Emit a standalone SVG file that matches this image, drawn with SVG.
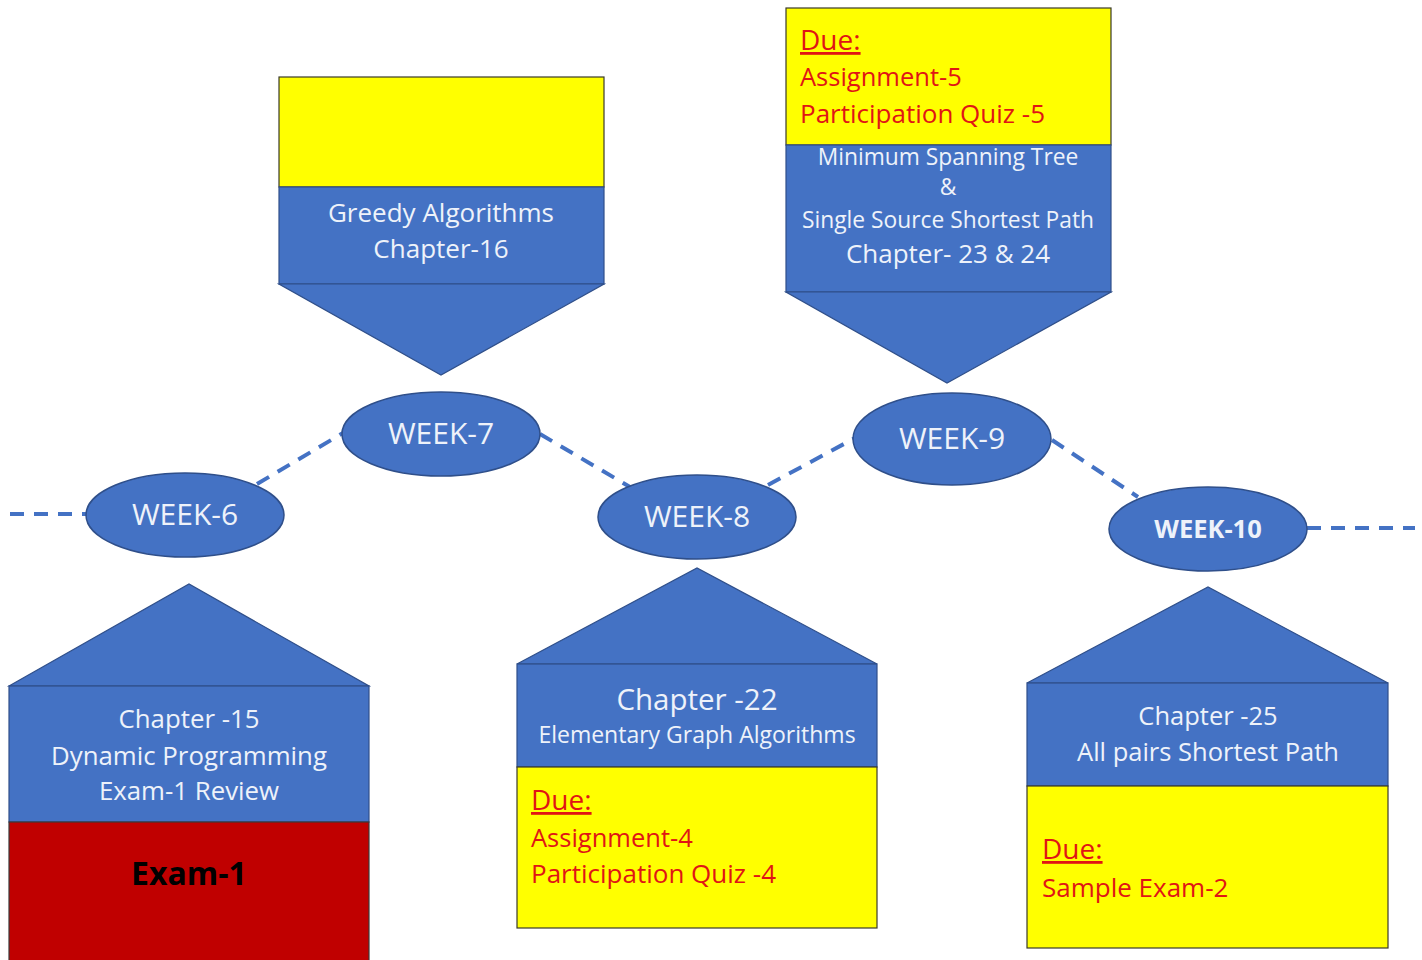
<svg xmlns="http://www.w3.org/2000/svg" width="1422" height="960" viewBox="0 0 1422 960">
<style>
.blue{fill:#4472C4;stroke:#2F4F8A;stroke-width:1.2}
.yel{fill:#FFFF00;stroke:#3A3A2A;stroke-width:1.2}
.red{fill:#C00000;stroke:#3A3A3A;stroke-width:1.2}
.wk{fill:#4472C4;stroke:#2F4F8A;stroke-width:1.5}
.t{font-family:"Open Sans","Noto Sans",sans-serif;fill:#EEF2FA;text-anchor:middle}
.r{font-family:"Open Sans","Noto Sans",sans-serif;fill:#E01515}
.due{text-decoration:underline;font-size:28px}
.dash{stroke:#4472C4;stroke-width:4;stroke-dasharray:14 10;fill:none}
</style>
<rect width="1422" height="960" fill="#FFFFFF"/>
<g id="connectors">
<line class="dash" x1="10" y1="514" x2="87" y2="514"/>
<line class="dash" x1="257" y1="484" x2="343" y2="433"/>
<line class="dash" x1="540" y1="434" x2="630" y2="487"/>
<line class="dash" x1="768" y1="485" x2="855" y2="438"/>
<line class="dash" x1="1052" y1="440" x2="1138" y2="497"/>
<line class="dash" x1="1307" y1="528" x2="1415" y2="528"/>
</g>
<g id="week6">
<ellipse class="wk" cx="185" cy="515" rx="99" ry="42"/>
<text class="t" x="185" y="525" font-size="30">WEEK-6</text>
</g>
<g id="week7">
<ellipse class="wk" cx="441" cy="434" rx="99" ry="42"/>
<text class="t" x="441" y="444" font-size="30">WEEK-7</text>
</g>
<g id="week8">
<ellipse class="wk" cx="697" cy="517" rx="99" ry="42"/>
<text class="t" x="697" y="527" font-size="30">WEEK-8</text>
</g>
<g id="week9">
<ellipse class="wk" cx="952" cy="439" rx="99" ry="46"/>
<text class="t" x="952" y="449" font-size="30">WEEK-9</text>
</g>
<g id="week10">
<ellipse class="wk" cx="1208" cy="529" rx="99" ry="42"/>
<text class="t" x="1208" y="538" font-size="25.5" font-weight="bold">WEEK-10</text>
</g>
<g id="box-week7">
<rect class="yel" x="279" y="77" width="325" height="110"/>
<rect class="blue" x="279" y="187" width="325" height="97"/>
<polygon class="blue" points="279,284 604,284 441,375"/>
<text class="t" x="441" y="222" font-size="26">Greedy Algorithms</text>
<text class="t" x="441" y="258" font-size="26">Chapter-16</text>
</g>
<g id="box-week9">
<rect class="yel" x="786" y="8" width="325" height="137"/>
<rect class="blue" x="786" y="145" width="325" height="147"/>
<polygon class="blue" points="786,292 1111,292 947,383"/>
<text class="r due" x="800" y="50">Due:</text>
<text class="r" x="800" y="86" font-size="25.5">Assignment-5</text>
<text class="r" x="800" y="123" font-size="26">Participation Quiz -5</text>
<text class="t" x="948" y="165" font-size="22.8">Minimum Spanning Tree</text>
<text class="t" x="948" y="195" font-size="22.8">&amp;</text>
<text class="t" x="948" y="228" font-size="22.8">Single Source Shortest Path</text>
<text class="t" x="948" y="263" font-size="26">Chapter- 23 &amp; 24</text>
</g>
<g id="box-week6">
<polygon class="blue" points="9,686 189,584 369,686"/>
<rect class="blue" x="9" y="686" width="360" height="136"/>
<rect class="red" x="9" y="822" width="360" height="140"/>
<text class="t" x="189" y="728" font-size="25.8">Chapter -15</text>
<text class="t" x="189" y="765" font-size="25.8">Dynamic Programming</text>
<text class="t" x="189" y="800" font-size="25.8">Exam-1 Review</text>
<text x="189" y="885" font-size="32" font-weight="bold" text-anchor="middle" font-family="Open Sans, Noto Sans, sans-serif" fill="#000000">Exam-1</text>
</g>
<g id="box-week8">
<polygon class="blue" points="517,664 697,568 877,664"/>
<rect class="blue" x="517" y="664" width="360" height="103"/>
<rect class="yel" x="517" y="767" width="360" height="161"/>
<text class="t" x="697" y="710" font-size="29.5">Chapter -22</text>
<text class="t" x="697" y="743" font-size="23">Elementary Graph Algorithms</text>
<text class="r due" x="531" y="810">Due:</text>
<text class="r" x="531" y="847" font-size="25.5">Assignment-4</text>
<text class="r" x="531" y="883" font-size="26">Participation Quiz -4</text>
</g>
<g id="box-week10">
<polygon class="blue" points="1027,683 1208,587 1388,683"/>
<rect class="blue" x="1027" y="683" width="361" height="103"/>
<rect class="yel" x="1027" y="786" width="361" height="162"/>
<text class="t" x="1208" y="725" font-size="25.5">Chapter -25</text>
<text class="t" x="1208" y="761" font-size="25.5">All pairs Shortest Path</text>
<text class="r due" x="1042" y="859">Due:</text>
<text class="r" x="1042" y="897" font-size="26">Sample Exam-2</text>
</g>
</svg>
